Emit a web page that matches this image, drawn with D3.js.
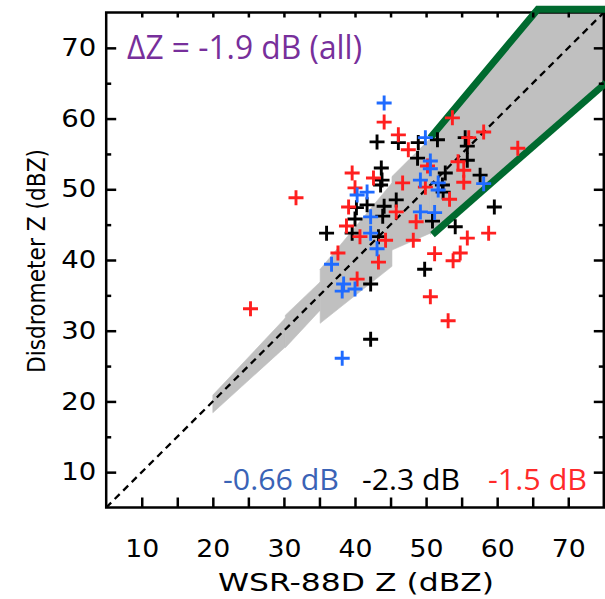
<!DOCTYPE html>
<html><head><meta charset="utf-8">
<script src="https://cdn.jsdelivr.net/npm/d3@7"></script>
<style>html,body{margin:0;padding:0;background:#fff;}svg{display:block;}</style>
</head><body>
<svg id="chart" width="605" height="599"></svg>
<script>
// ---- data ----
const blueX = [44.1, 49.9, 50.6, 50.6, 49.2, 51.7, 51.7, 58.1, 49.2, 51.2, 40.3, 41.7, 42.2, 42.2, 43.1, 36.7, 38.4, 38.2, 40.0, 38.2];
const blueY = [62.2, 57.3, 54.0, 52.9, 51.3, 50.9, 49.9, 50.8, 46.8, 46.7, 49.2, 49.6, 46.1, 43.8, 41.6, 39.4, 36.6, 35.6, 35.9, 26.1];
const blackX = [43.1, 46.1, 48.9, 51.6, 55.5, 55.8, 55.8, 48.8, 52.7, 57.6, 43.7, 43.8, 43.6, 52.3, 52.4, 59.6, 41.7, 40.2, 44.1, 45.8, 43.9, 40.0, 50.9, 54.1, 39.6, 43.3, 36.0, 49.8, 42.2, 42.2];
const blackY = [56.7, 56.6, 56.6, 57.0, 57.3, 56.1, 54.1, 54.4, 52.3, 52.0, 53.0, 51.3, 50.6, 50.6, 49.6, 47.5, 47.8, 47.4, 47.6, 48.5, 46.2, 45.8, 45.5, 44.7, 43.8, 43.3, 43.8, 38.7, 36.6, 28.8];
const redX = [44.1, 46.1, 47.5, 53.7, 58.1, 56.0, 54.5, 62.9, 50.2, 55.3, 55.3, 39.6, 42.6, 46.7, 49.9, 53.3, 40.0, 39.1, 45.8, 38.8, 40.7, 44.3, 37.6, 43.3, 48.6, 48.2, 55.8, 58.8, 51.2, 54.8, 53.8, 50.6, 53.1, 40.3, 31.7, 25.3];
const redY = [59.5, 57.7, 55.6, 60.1, 58.1, 57.3, 53.9, 55.8, 53.3, 52.7, 51.0, 52.3, 51.6, 50.9, 50.3, 48.6, 50.2, 47.5, 46.8, 44.8, 43.3, 42.8, 41.0, 39.7, 45.4, 42.8, 43.1, 43.8, 40.9, 41.0, 39.9, 34.8, 31.4, 37.3, 48.8, 33.1];

// uncertainty band segments (x start/end, lower & upper bounds at start/end)
const bandX0  = [20.0, 30.2, 35.1, 45.2, 50.6];
const bandX1  = [30.2, 35.1, 45.2, 50.6, 75.0];
const bandLo0 = [18.4, 27.6, 31.05, 41.4, 43.6];
const bandLo1 = [27.7, 32.9, 39.1, 43.8, 64.8];
const bandHi0 = [20.9, 32.2, 38.7, 51.8, 57.3];
const bandHi1 = [31.8, 36.9, 50.9, 57.2, 86.6];

const xMajor = [10, 20, 30, 40, 50, 60, 70];
const xMinor = [15, 25, 35, 45, 55, 65];
const yMajor = [10, 20, 30, 40, 50, 60, 70];
const yMinor = [15, 25, 35, 45, 55, 65];

const labelAll = "ΔZ = -1.9 dB (all)";
const biasLabels = ["-0.66 dB", "-2.3 dB", "-1.5 dB"];
const xTitle = "WSR-88D Z (dBZ)";
const yTitle = "Disdrometer Z (dBZ)";

// ---- drawing ----
const svg = d3.select("#chart");
const x = d3.scaleLinear().domain([5, 75]).range([106.2, 603.8]);
const y = d3.scaleLinear().domain([5, 75]).range([507.5, 12.5]);

svg.append("defs").append("clipPath").attr("id", "clip")
  .append("rect").attr("x", x(5)).attr("y", y(75)).attr("width", x(75) - x(5)).attr("height", y(5) - y(75));

const gBand = svg.append("g").attr("clip-path", "url(#clip)");
bandX0.forEach((x0, i) => {
  const pts = [[x0, bandHi0[i]], [bandX1[i], bandHi1[i]], [bandX1[i], bandLo1[i]], [x0, bandLo0[i]]];
  gBand.append("path")
    .attr("d", "M" + pts.map(p => [x(p[0]), y(p[1])].join(",")).join("L") + "Z")
    .attr("fill", "#c0c0c0").attr("stroke", "#c0c0c0").attr("stroke-width", 0.6);
});

// 1:1 line
svg.append("line")
  .attr("x1", x(5)).attr("y1", y(5)).attr("x2", x(75)).attr("y2", y(75))
  .attr("stroke", "#000").attr("stroke-width", 2.3).attr("stroke-dasharray", "7,5");

// frame
svg.append("rect").attr("x", x(5)).attr("y", y(75)).attr("width", x(75) - x(5)).attr("height", y(5) - y(75))
  .attr("fill", "none").attr("stroke", "#000").attr("stroke-width", 2.5);

// green outer envelope of the last segment (capped at top of plot)
const last = bandX0.length - 1;
const capY = 75.45;
const slopeHi = (bandHi1[last] - bandHi0[last]) / (bandX1[last] - bandX0[last]);
const xCap = bandX0[last] + (capY - bandHi0[last]) / slopeHi;
const upper = [[bandX0[last], bandHi0[last]], [xCap, capY], [bandX1[last] + 0.3, capY]];
const lower = [[bandX0[last] + 0.3, bandLo0[last]], [bandX1[last] + 0.3, bandLo1[last] + 0.3 * (bandLo1[last]-bandLo0[last])/(bandX1[last]-bandX0[last])]];
const line = d3.line().x(d => x(d[0])).y(d => y(d[1]));
[upper, lower].forEach(pts => {
  svg.append("path").attr("d", line(pts)).attr("fill", "none")
    .attr("stroke", "#006a2f").attr("stroke-width", 7).attr("stroke-linejoin", "miter");
});

// axes
function styleAxis(g) {
  g.select(".domain").remove();
  g.selectAll(".tick line").attr("stroke", "#000").attr("stroke-width", 2.5);
  g.selectAll("text").attr("font-family", "DejaVu Sans").attr("font-size", 24).attr("fill", "#000");
}
svg.append("g").attr("transform", `translate(0,${y(5)})`)
  .call(d3.axisBottom(x).tickValues(xMajor).tickSize(-10).tickPadding(32).tickFormat(d3.format("d")))
  .call(styleAxis)
  .call(g => g.selectAll("text").attr("textLength", 34).attr("lengthAdjust", "spacingAndGlyphs"));
svg.append("g").attr("transform", `translate(0,${y(5)})`)
  .call(d3.axisBottom(x).tickValues(xMinor).tickSize(-10).tickFormat(""))
  .call(styleAxis);
svg.append("g").attr("transform", `translate(0,${y(75)})`)
  .call(d3.axisTop(x).tickValues(xMajor.concat(xMinor)).tickSize(-5).tickFormat(""))
  .call(styleAxis);
svg.append("g").attr("transform", `translate(${x(5)},0)`)
  .call(d3.axisLeft(y).tickValues(yMajor).tickSize(-10).tickPadding(10).tickFormat(d3.format("d")))
  .call(styleAxis)
  .call(g => g.selectAll("text").attr("textLength", 35).attr("lengthAdjust", "spacingAndGlyphs"));
svg.append("g").attr("transform", `translate(${x(5)},0)`)
  .call(d3.axisLeft(y).tickValues(yMinor).tickSize(-5).tickFormat(""))
  .call(styleAxis);
svg.append("g").attr("transform", `translate(${x(75)},0)`)
  .call(d3.axisRight(y).tickValues(yMajor).tickSize(-10).tickFormat(""))
  .call(styleAxis);
svg.append("g").attr("transform", `translate(${x(75)},0)`)
  .call(d3.axisRight(y).tickValues(yMinor).tickSize(-5).tickFormat(""))
  .call(styleAxis);

// titles
svg.append("text").attr("x", 356).attr("y", 591).attr("text-anchor", "middle")
  .attr("font-family", "DejaVu Sans").attr("font-size", 24)
  .attr("textLength", 276).attr("lengthAdjust", "spacingAndGlyphs").text(xTitle);
svg.append("text").attr("transform", "translate(45,261) rotate(-90)").attr("text-anchor", "middle")
  .attr("font-family", "DejaVu Sans").attr("font-size", 25)
  .attr("textLength", 224).attr("lengthAdjust", "spacingAndGlyphs").text(yTitle);

// markers
const series = [
  {xs: blackX, ys: blackY, color: "#000000"},
  {xs: redX, ys: redY, color: "#ff1f1f"},
  {xs: blueX, ys: blueY, color: "#1f6bff"}
];
const h = 7.5;
series.forEach(s => {
  const g = svg.append("g").attr("stroke", s.color).attr("stroke-width", 2.9);
  s.xs.forEach((xv, i) => {
    const cx = x(xv), cy = y(s.ys[i]);
    g.append("path").attr("d", `M${cx - h},${cy}H${cx + h}M${cx},${cy - h}V${cy + h}`);
  });
});

// annotations
svg.append("text").attr("x", 127).attr("y", 59)
  .attr("font-family", "Open Sans").attr("font-size", 32).attr("fill", "#772f9b")
  .attr("textLength", 235).attr("lengthAdjust", "spacingAndGlyphs").text(labelAll);
const biasX = [223, 362, 488];
const biasW = [116, 98, 99];
const biasC = ["#3a63b6", "#000000", "#ff2a2a"];
biasLabels.forEach((t, i) => {
  svg.append("text").attr("x", biasX[i]).attr("y", 490)
    .attr("font-family", "Open Sans").attr("font-size", 30).attr("fill", biasC[i])
    .attr("textLength", biasW[i]).attr("lengthAdjust", "spacingAndGlyphs").text(t);
});
</script>
</body></html>
